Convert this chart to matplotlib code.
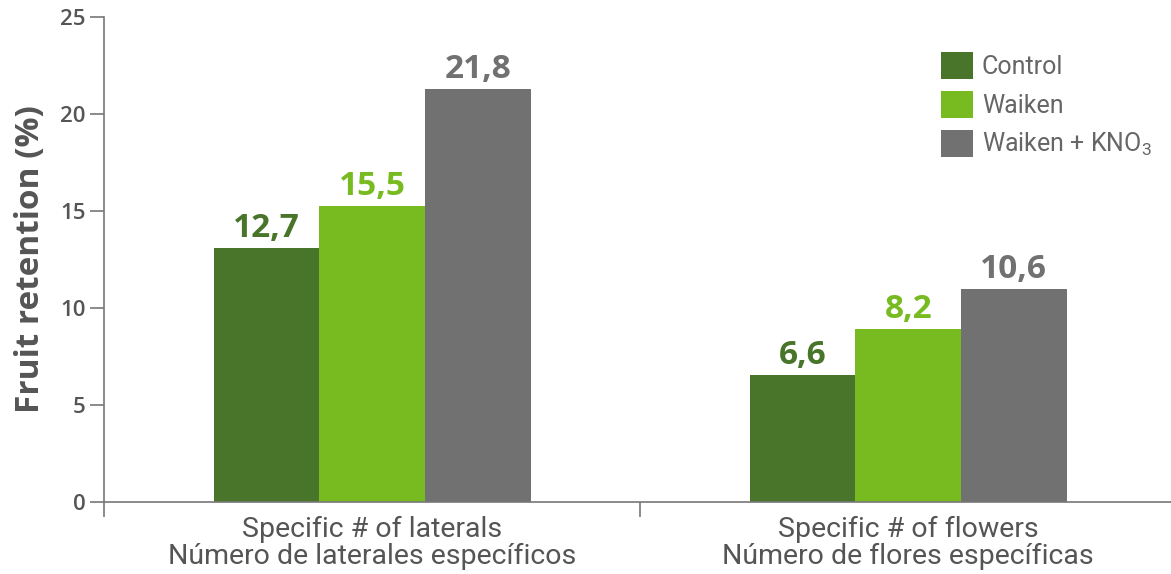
import matplotlib
matplotlib.use("Agg")
import matplotlib.pyplot as plt
import numpy as np
from matplotlib.patches import Patch

categories = ["Specific # of laterals\nNúmero de laterales específicos",
              "Specific # of flowers\nNúmero de flores específicas"]
series = ["Control", "Waiken", "Waiken + KNO$_3$"]
control = [13.1, 6.55]
waiken = [15.25, 8.9]
waiken_kno3 = [21.3, 11.0]
control_labels = ["12,7", "6,6"]
waiken_labels = ["15,5", "8,2"]
waiken_kno3_labels = ["21,8", "10,6"]
y_ticks = [0, 5, 10, 15, 20, 25]

colors = ["#48752a", "#78bb21", "#707170"]
text_grey = "#555555"

plt.rcParams["mathtext.fontset"] = "custom"
plt.rcParams["mathtext.rm"] = "Roboto"

fig = plt.figure(figsize=(11.71, 5.74), dpi=100)
ax = fig.add_axes([0.0888, 0.1254, 0.9112, 0.845])

x = np.arange(len(categories))
w = 0.197
values = [control, waiken, waiken_kno3]
labels = [control_labels, waiken_labels, waiken_kno3_labels]
for i, (vals, labs) in enumerate(zip(values, labels)):
    xs = x + (i - 1) * w
    ax.bar(xs, vals, width=w, color=colors[i], zorder=2)
    for xi, v, lab in zip(xs, vals, labs):
        ax.text(xi, v + 0.15, lab, ha="center", va="bottom", fontsize=24,
                fontweight="bold", color=colors[i], family="Open Sans")

ax.set_xlim(-0.5, 1.49)
ax.set_ylim(0, 25)
ax.set_yticks(y_ticks)
ax.set_yticklabels([str(t) for t in y_ticks], fontsize=16, color=text_grey,
                   family="Open Sans", fontweight="semibold")
ax.tick_params(axis="y", length=10, width=1.2, color="#777777", pad=3)

ax.set_xticks(x)
ax.set_xticklabels(categories, fontsize=20.5, color=text_grey,
                   family="Roboto", linespacing=1.0)
ax.tick_params(axis="x", length=0, pad=10)
ax.set_xticks([-0.5, 0.5], minor=True)
ax.tick_params(axis="x", which="minor", length=11, width=1.2, color="#777777")

for s in ["top", "right"]:
    ax.spines[s].set_visible(False)
ax.spines["left"].set_color("#777777")
ax.spines["bottom"].set_color("#777777")
ax.spines["left"].set_linewidth(1.2)
ax.spines["bottom"].set_linewidth(1.2)

ax.set_ylabel("Fruit retention (%)", fontsize=24, fontweight="bold",
              color=text_grey, family="Open Sans", labelpad=10)

handles = [Patch(facecolor=c) for c in colors]
ax.legend(handles, series, loc="upper right", bbox_to_anchor=(1.003, 0.974),
          frameon=False, handlelength=1.3, handleheight=1.3,
          handletextpad=0.35, labelspacing=0.47, labelcolor="#666666",
          prop={"family": "Roboto", "size": 18})

fig.savefig("out.png", dpi=100)
